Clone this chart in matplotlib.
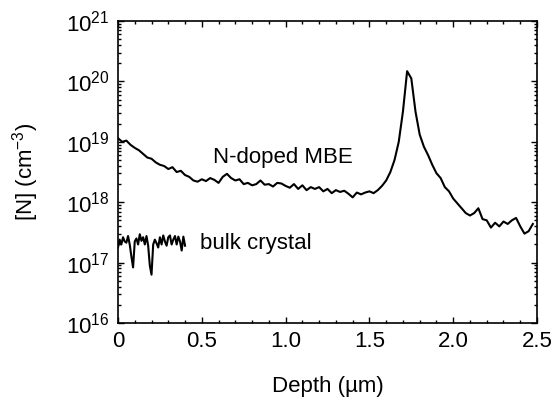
import matplotlib
matplotlib.use("Agg")
import matplotlib.pyplot as plt
import numpy as np
from matplotlib.ticker import FixedLocator, LogLocator, NullFormatter, MultipleLocator

plt.rcParams['font.family'] = ['Liberation Sans', 'DejaVu Sans']
plt.rcParams['mathtext.fontset'] = 'custom'
plt.rcParams['mathtext.rm'] = 'Liberation Sans'
plt.rcParams['mathtext.it'] = 'Liberation Sans:italic'

# N-doped MBE profile, depth (um) and log10 of [N] (cm^-3)
depth_mbe = [0.0, 0.025, 0.05, 0.075, 0.1, 0.125, 0.15, 0.175, 0.2, 0.225,
             0.25, 0.275, 0.3, 0.325, 0.35, 0.375, 0.4, 0.425, 0.45, 0.475,
             0.5, 0.525, 0.55, 0.575, 0.6, 0.625, 0.65, 0.675, 0.7, 0.725,
             0.75, 0.775, 0.8, 0.825, 0.85, 0.875, 0.9, 0.925, 0.95, 0.975,
             1.0, 1.025, 1.05, 1.075, 1.1, 1.125, 1.15, 1.175, 1.2, 1.225,
             1.25, 1.275, 1.3, 1.325, 1.35, 1.375, 1.4, 1.425, 1.45, 1.475,
             1.5, 1.525, 1.55, 1.575, 1.6, 1.625, 1.65, 1.675, 1.7, 1.725,
             1.75, 1.775, 1.8, 1.825, 1.85, 1.875, 1.9, 1.925, 1.95, 1.975,
             2.0, 2.025, 2.05, 2.075, 2.1, 2.125, 2.15, 2.175, 2.2, 2.225,
             2.25, 2.275, 2.3, 2.325, 2.35, 2.375, 2.4, 2.425, 2.45, 2.475]
log_mbe = [19.06, 19.0, 19.02, 18.95, 18.9, 18.86, 18.8, 18.74, 18.72, 18.66,
           18.62, 18.6, 18.55, 18.58, 18.5, 18.52, 18.45, 18.42, 18.36, 18.34,
           18.38, 18.35, 18.4, 18.37, 18.32, 18.42, 18.47, 18.4, 18.36, 18.38,
           18.3, 18.32, 18.28, 18.3, 18.36, 18.29, 18.3, 18.26, 18.32, 18.31,
           18.27, 18.24, 18.3, 18.22, 18.28, 18.2, 18.25, 18.22, 18.25, 18.18,
           18.22, 18.15, 18.2, 18.17, 18.19, 18.14, 18.08, 18.16, 18.13, 18.16,
           18.18, 18.15, 18.2, 18.27, 18.36, 18.5, 18.7, 19.0, 19.5, 20.17,
           20.05, 19.5, 19.12, 18.92, 18.78, 18.62, 18.48, 18.4, 18.25, 18.18,
           18.06, 17.98, 17.9, 17.82, 17.78, 17.82, 17.9, 17.72, 17.7, 17.58,
           17.66, 17.6, 17.68, 17.64, 17.7, 17.74, 17.6, 17.48, 17.52, 17.64]

# bulk crystal reference
depth_bulk = [0.0, 0.01, 0.02, 0.03, 0.04, 0.05, 0.06, 0.07, 0.08, 0.09,
              0.10, 0.11, 0.12, 0.13, 0.14, 0.15, 0.16, 0.17, 0.18, 0.19,
              0.20, 0.21, 0.22, 0.23, 0.24, 0.25, 0.26, 0.27, 0.28, 0.29,
              0.30, 0.31, 0.32, 0.33, 0.34, 0.35, 0.36, 0.37, 0.38, 0.39, 0.40]
log_bulk = [17.25, 17.38, 17.3, 17.42, 17.35, 17.33, 17.44, 17.3, 17.1, 16.92,
            17.35, 17.4, 17.3, 17.47, 17.36, 17.42, 17.3, 17.44, 17.28, 16.95,
            16.8, 17.3, 17.38, 17.32, 17.25, 17.42, 17.3, 17.45, 17.35, 17.28,
            17.42, 17.45, 17.3, 17.38, 17.44, 17.3, 17.43, 17.35, 17.2, 17.43, 17.28]

x_ticks = [0, 0.5, 1.0, 1.5, 2.0, 2.5]
x_labels = ["0", "0.5", "1.0", "1.5", "2.0", "2.5"]

n_mbe = 10.0 ** np.array(log_mbe)
n_bulk = 10.0 ** np.array(log_bulk)

fig = plt.figure(figsize=(5.55, 4.05), dpi=100)
ax = fig.add_axes([0.2126, 0.2025, 0.755, 0.7455])

ax.plot(depth_mbe, n_mbe, color='black', lw=1.5)
ax.plot(depth_bulk, n_bulk, color='black', lw=1.5)

ax.set_yscale('log')
ax.set_xlim(0, 2.5)
ax.set_ylim(1e16, 1e21)

ax.xaxis.set_major_locator(FixedLocator(x_ticks))
ax.set_xticklabels(x_labels)
ax.xaxis.set_minor_locator(MultipleLocator(0.1))
ax.yaxis.set_major_locator(LogLocator(base=10, numticks=10))
ax.yaxis.set_minor_locator(LogLocator(base=10, subs=np.arange(2, 10), numticks=10))
ax.yaxis.set_minor_formatter(NullFormatter())

ax.tick_params(which='both', direction='in', top=True, right=True, width=1.0)
ax.tick_params(which='major', length=4, labelsize=16, pad=6)
ax.tick_params(which='minor', length=2)
for s in ax.spines.values():
    s.set_linewidth(1.2)

ax.text(0.567, 5.4e18, "N-doped MBE", fontsize=16, ha='left', va='center')
ax.text(0.49, 2.1e17, "bulk crystal", fontsize=16, ha='left', va='center')

ax.set_xlabel("Depth (µm)", fontsize=16, labelpad=17)
ax.set_ylabel(r"[N] (cm$^{-3}$)", fontsize=16, labelpad=18)

fig.savefig("out.png", dpi=100)
